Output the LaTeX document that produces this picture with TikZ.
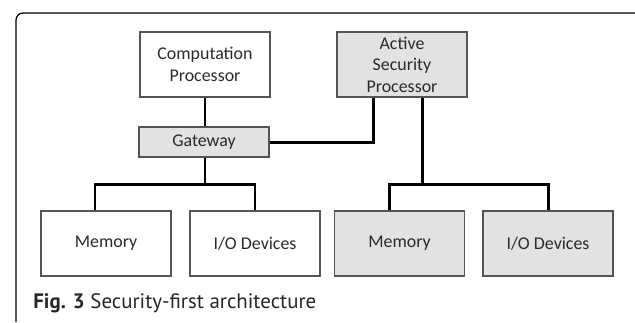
\documentclass[tikz,border=0pt]{standalone}
\usepackage{fontspec}
\setmainfont{Carlito}
\newfontfamily\capfont{PT Sans}
\usetikzlibrary{positioning}

\definecolor{boxgray}{HTML}{E2E2E2}
\definecolor{edgegray}{HTML}{555555}
\definecolor{txtgray}{HTML}{2A2A2A}

\begin{document}
\begin{tikzpicture}[x=0.02cm,y=-0.02cm,
	unit/.style={draw=edgegray,line width=0.7pt,text=txtgray,align=center,
		minimum width=2.6cm,minimum height=1.3cm,inner sep=0pt,font=\fontsize{10.2}{12.2}\selectfont},
	shaded/.style={unit,fill=boxgray},
	gate/.style={shaded,minimum height=0.6cm},
	wire/.style={line width=1.7pt,black}]
	\useasboundingbox (0,0) rectangle (635,322);

	% outer frame
	\draw[line width=0.7pt,rounded corners=4pt] (16,322) |- (635,13);

	\node[unit] (comp) at (205,64.5) {Computation\\Processor};
	\node[shaded] (asp) at (402,64.5) {Active\\Security\\Processor};
	\node[gate] (gw) at (204,142) {Gateway};

	\node[unit] (mem1) at (106,243.5) {Memory};
	\node[unit] (io1) at (255,243.5) {I/O Devices};
	\node[shaded] (mem2) at (399.5,243.5) {Memory};
	\node[shaded] (io2) at (548,243.5) {I/O Devices};

	\coordinate (busL) at (205,184);
	\coordinate (busR) at (422,184);

	\draw[wire] (comp.south) -- (comp.south |- gw.north);
	\draw[wire] (gw.east) -| ([xshift=0.74cm]asp.south west);
	\draw[wire] (gw.south -| busL) -- (busL);
	\draw[wire] ([xshift=-0.22cm]mem1.north) |- (busL) -| (io1.north);
	\draw[wire] (asp.south -| busR) -- (busR);
	\draw[wire] ([xshift=-0.21cm]mem2.north) |- (busR) -| (io2.north);

	\node[anchor=west,inner sep=0pt,text=black!85,font=\capfont\fontsize{11.9}{14}\selectfont] (cap) at (33,303) {\textbf{Fig. 3} Security-first architecture};
\end{tikzpicture}
\end{document}
